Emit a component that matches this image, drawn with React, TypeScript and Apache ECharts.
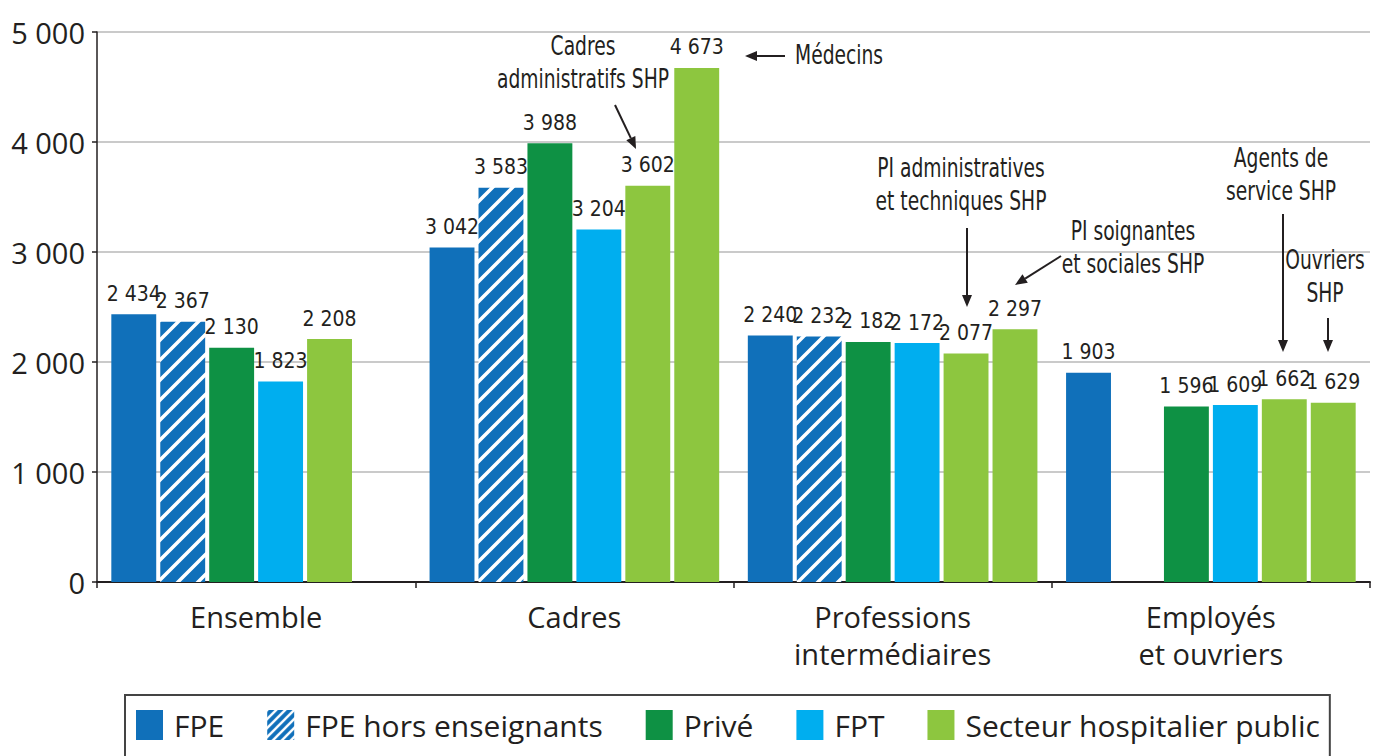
import React, { useEffect, useRef } from "react";
import * as echarts from "echarts";

const categories = ["Ensemble", "Cadres", "Professions\nintermédiaires", "Employés\net ouvriers"];
const fpe = [2434, 3042, 2240, 1903];
const fpeHorsEns = [2367, 3583, 2232, null];
const prive = [2130, 3988, 2182, 1596];
const fpt = [1823, 3204, 2172, 1609];
const shpA = [2208, 3602, 2077, 1662];
const shpB = [null, 4673, 2297, 1629];
const legendNames = ["FPE", "FPE hors enseignants", "Privé", "FPT", "Secteur hospitalier public"];
const yTicks = { min: 0, max: 5000, interval: 1000 };

const COND = '"DejaVu Sans Condensed", "Liberation Sans Narrow", sans-serif';
const MAIN = '"Open Sans", "Noto Sans", sans-serif';
const INK = "#231f20";

const fmt = (v: number) => String(v).replace(/\B(?=(\d{3})+(?!\d))/g, " ");

function hatch(size: number, lw: number) {
  const c = document.createElement("canvas");
  c.width = size;
  c.height = size;
  const ctx = c.getContext("2d")!;
  ctx.fillStyle = "#1070BA";
  ctx.fillRect(0, 0, size, size);
  ctx.strokeStyle = "#ffffff";
  ctx.lineWidth = lw;
  ctx.beginPath();
  ctx.moveTo(-2, size + 2);
  ctx.lineTo(size + 2, -2);
  ctx.moveTo(-2, 2);
  ctx.lineTo(2, -2);
  ctx.moveTo(size - 2, size + 2);
  ctx.lineTo(size + 2, size - 2);
  ctx.stroke();
  return c;
}

function arrow(x1: number, y1: number, x2: number, y2: number) {
  const a = Math.atan2(y2 - y1, x2 - x1);
  const len = 12, hw = 5;
  const bx = x2 - len * Math.cos(a), by = y2 - len * Math.sin(a);
  const px = -Math.sin(a), py = Math.cos(a);
  return [
    { type: "line", z: 100, shape: { x1, y1, x2: bx, y2: by }, style: { stroke: INK, lineWidth: 2 } },
    {
      type: "polygon",
      z: 100,
      shape: { points: [[x2, y2], [bx + px * hw, by + py * hw], [bx - px * hw, by - py * hw]] },
      style: { fill: INK },
    },
  ];
}

function note(x: number, y: number, text: string, align = "center") {
  return {
    type: "text",
    z: 100,
    x,
    y,
    scaleX: 0.77,
    style: {
      text,
      fill: INK,
      font: `27px ${COND}`,
      fontSize: 27,
      fontFamily: COND,
      lineHeight: 33,
      align,
      textAlign: align,
      verticalAlign: "top",
      textVerticalAlign: "top",
    },
  };
}

export default function App() {
  const ref = useRef<HTMLDivElement>(null);
  useEffect(() => {
    document.body.style.margin = "0";
    const chart = echarts.init(ref.current!, null, { renderer: "svg" });
    const pat = { image: hatch(20, 3.5), repeat: "repeat" };
    const patSmall = { image: hatch(9, 2.4), repeat: "repeat" };
    const label = {
      show: true,
      position: "top",
      distance: 10,
      formatter: (p: any) => fmt(p.value),
      fontFamily: COND,
      fontSize: 21,
      color: INK,
    };
    const mk = (name: string, data: any[], color: any) => ({
      name,
      type: "bar",
      data,
      barGap: "9%",
      barCategoryGap: "9%",
      itemStyle: { color },
      label,
    });
    chart.setOption({
      animation: false,
      grid: { left: 97, right: 16, top: 32, bottom: 174, containLabel: false },
      xAxis: {
        type: "category",
        data: categories,
        axisLine: { lineStyle: { color: INK, width: 2 } },
        axisTick: { show: true, length: 6, lineStyle: { color: INK, width: 1.5 } },
        axisLabel: { fontFamily: MAIN, fontSize: 29, color: INK, margin: 16, lineHeight: 37 },
      },
      yAxis: {
        type: "value",
        min: yTicks.min,
        max: yTicks.max,
        interval: yTicks.interval,
        axisLine: { show: true, lineStyle: { color: INK, width: 1.5 } },
        axisTick: { show: true, length: 5, lineStyle: { color: INK, width: 1.5 } },
        axisLabel: { fontFamily: MAIN, fontSize: 29, color: INK, margin: 12, formatter: (v: number) => fmt(v) },
        splitLine: { lineStyle: { color: "#b8b8b8", width: 1.5 } },
      },
      legend: {
        data: legendNames.map((n) =>
          n === "FPE hors enseignants" ? { name: n, itemStyle: { color: patSmall } } : { name: n }
        ),
        left: 125,
        top: 695,
        orient: "horizontal",
        icon: "rect",
        itemWidth: 27,
        itemHeight: 30,
        itemGap: 43,
        padding: [15, 10, 30, 11],
        borderColor: "#444",
        borderWidth: 2,
        textStyle: { fontFamily: MAIN, fontSize: 30, color: INK, padding: [0, 0, 0, 6] },
        selectedMode: false,
      },
      series: [
        mk("FPE", fpe, "#1070BA"),
        mk("FPE hors enseignants", fpeHorsEns, pat),
        mk("Privé", prive, "#0E9144"),
        mk("FPT", fpt, "#00AEEF"),
        mk("Secteur hospitalier public", shpA, "#8DC63F"),
        mk("Secteur hospitalier public", shpB, "#8DC63F"),
      ],
      graphic: [
        note(583, 30, "Cadres\nadministratifs SHP"),
        ...arrow(615, 105, 636, 149),
        ...arrow(785, 56, 745, 56),
        note(795, 39, "Médecins", "left"),
        note(961, 152, "PI administratives\net techniques SHP"),
        ...arrow(967, 228, 967, 307),
        note(1133, 215, "PI soignantes\net sociales SHP"),
        ...arrow(1061, 256, 1015, 285),
        note(1281, 142, "Agents de\nservice SHP"),
        ...arrow(1283, 214, 1283, 352),
        note(1325, 244, "Ouvriers\nSHP"),
        ...arrow(1328, 318, 1328, 352),
      ],
    });
    return () => chart.dispose();
  }, []);
  return <div ref={ref} style={{ width: 1386, height: 756 }} />;
}
